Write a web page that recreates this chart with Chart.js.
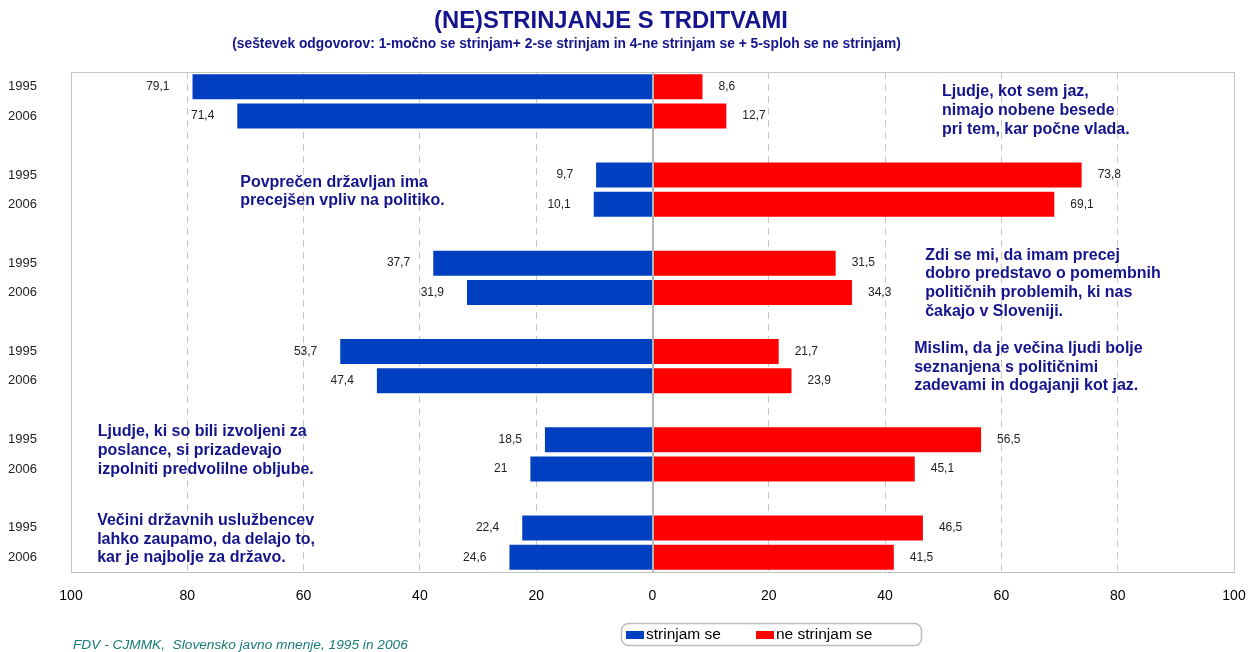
<!DOCTYPE html>
<html>
<head>
<meta charset="utf-8">
<script src="https://cdn.jsdelivr.net/npm/chart.js@4.4.0/dist/chart.umd.min.js"></script>
<style>
  html, body { margin: 0; padding: 0; background: #fff; }
  #wrap { width: 1251px; height: 652px; }
</style>
</head>
<body>
<div id="wrap"><canvas id="chart" width="1251" height="652"></canvas></div>
<script>
// ---- data ----
const YEARS = ['1995', '2006'];
const AGREE_1995 = [79.1, 9.7, 37.7, 53.7, 18.5, 22.4];
const AGREE_2006 = [71.4, 10.1, 31.9, 47.4, 21, 24.6];
const DISAGREE_1995 = [8.6, 73.8, 31.5, 21.7, 56.5, 46.5];
const DISAGREE_2006 = [12.7, 69.1, 34.3, 23.9, 45.1, 41.5];
const X_TICKS = [-100, -80, -60, -40, -20, 0, 20, 40, 60, 80, 100];

const STATEMENTS = [
  ['Ljudje, kot sem jaz,', 'nimajo nobene besede', 'pri tem, kar počne vlada.'],
  ['Povprečen državljan ima', 'precejšen vpliv na politiko.'],
  ['Zdi se mi, da imam precej', 'dobro predstavo o pomembnih', 'političnih problemih, ki nas', 'čakajo v Sloveniji.'],
  ['Mislim, da je večina ljudi bolje', 'seznanjena s političnimi', 'zadevami in dogajanji kot jaz.'],
  ['Ljudje, ki so bili izvoljeni za', 'poslance, si prizadevajo', 'izpolniti predvolilne obljube.'],
  ['Večini državnih uslužbencev', 'lahko zaupamo, da delajo to,', 'kar je najbolje za državo.']
];
// where each statement text sits: x in axis units, y offset in category slots from the group's first bar
const NOTE_X = [49.8, -70.9, 46.9, 45.0, -95.4, -95.5];
const NOTE_DY = [0.18, 0.25, -0.27, -0.1, -0.27, -0.25];

const TITLE = '(NE)STRINJANJE S TRDITVAMI';
const SUBTITLE = '(seštevek odgovorov: 1-močno se strinjam+ 2-se strinjam in 4-ne strinjam se + 5-sploh se ne strinjam)';
const SOURCE = 'FDV - CJMMK,  Slovensko javno mnenje, 1995 in 2006';

const BLUE = '#0040c0';
const RED = '#ff0000';
const NAVY = '#14148c';
const GRID = '#c8c8c8';
const FONT = '"Liberation Sans", Arial, sans-serif';

// build slotted categories: 1995, 2006, gap, 1995, 2006, gap ...
const labels = [];
const agree = [];
const disagree = [];
AGREE_1995.forEach((_, i) => {
  labels.push(YEARS[0], YEARS[1]);
  agree.push(-AGREE_1995[i], -AGREE_2006[i]);
  disagree.push(DISAGREE_1995[i], DISAGREE_2006[i]);
  if (i < AGREE_1995.length - 1) {
    labels.push('');
    agree.push(null);
    disagree.push(null);
  }
});

const fmt = v => String(Math.abs(v)).replace('.', ',');

const decorPlugin = {
  id: 'decor',
  afterDatasetsDraw(chart) {
    const { ctx, chartArea: a, scales: { x } } = chart;
    ctx.save();
    // top frame
    ctx.strokeStyle = GRID;
    ctx.lineWidth = 1;
    ctx.beginPath();
    ctx.moveTo(a.left, a.top + 0.5);
    ctx.lineTo(a.right, a.top + 0.5);
    ctx.stroke();
    // zero line above the bars
    const x0 = Math.round(x.getPixelForValue(0));
    ctx.strokeStyle = '#b4b4b4';
    ctx.lineWidth = 2;
    ctx.beginPath();
    ctx.moveTo(x0, a.top);
    ctx.lineTo(x0, a.bottom);
    ctx.stroke();

    // value labels
    ctx.font = '12px ' + FONT;
    ctx.fillStyle = '#222';
    ctx.textBaseline = 'middle';
    chart.data.datasets.forEach((ds, di) => {
      chart.getDatasetMeta(di).data.forEach((bar, i) => {
        const v = ds.data[i];
        if (v == null) return;
        if (v < 0) {
          ctx.textAlign = 'right';
          ctx.fillText(fmt(v), bar.x - 23, bar.y);
        } else {
          ctx.textAlign = 'left';
          ctx.fillText(fmt(v), bar.x + 16, bar.y);
        }
      });
    });
    ctx.restore();
  },
  afterDraw(chart) {
    const { ctx, scales: { x, y } } = chart;
    ctx.save();
    // statements
    ctx.fillStyle = NAVY;
    ctx.font = 'bold 16px ' + FONT;
    ctx.textAlign = 'left';
    ctx.textBaseline = 'middle';
    STATEMENTS.forEach((lines, g) => {
      const px = x.getPixelForValue(NOTE_X[g]);
      const py = y.getPixelForValue(g * 3 + NOTE_DY[g]);
      lines.forEach((t, k) => ctx.fillText(t, px, py + k * 18.7));
    });

    // title + subtitle
    ctx.textAlign = 'center';
    ctx.font = 'bold 23.8px ' + FONT;
    ctx.fillText(TITLE, 611, 21);
    ctx.font = 'bold 13.8px ' + FONT;
    ctx.fillText(SUBTITLE, 566.5, 44);

    // legend
    ctx.strokeStyle = '#bdbdbd';
    ctx.lineWidth = 1.5;
    ctx.beginPath();
    ctx.roundRect(621.5, 623.5, 300, 22, 7);
    ctx.stroke();
    ctx.font = '15.5px ' + FONT;
    ctx.textAlign = 'left';
    ctx.fillStyle = chart.data.datasets[0].backgroundColor;
    ctx.fillRect(626, 631, 18, 8);
    ctx.fillStyle = chart.data.datasets[1].backgroundColor;
    ctx.fillRect(756, 631, 18, 8);
    ctx.fillStyle = '#000';
    ctx.fillText(chart.data.datasets[0].label, 646, 635);
    ctx.fillText(chart.data.datasets[1].label, 776, 635);

    // source
    ctx.font = 'italic 13.7px ' + FONT;
    ctx.fillStyle = '#1a7a7a';
    ctx.fillText(SOURCE, 73, 645);
    ctx.restore();
  }
};

new Chart(document.getElementById('chart'), {
  type: 'bar',
  data: {
    labels: labels,
    datasets: [
      { label: 'strinjam se', data: agree, backgroundColor: BLUE },
      { label: 'ne strinjam se', data: disagree, backgroundColor: RED }
    ]
  },
  options: {
    indexAxis: 'y',
    responsive: false,
    animation: false,
    layout: { padding: { top: 72, right: 17, left: 0, bottom: 0 } },
    datasets: { bar: { barPercentage: 0.85, categoryPercentage: 1 } },
    plugins: {
      legend: { display: false },
      tooltip: { enabled: false }
    },
    scales: {
      x: {
        min: -100,
        max: 100,
        afterFit: s => { s.height = 80; s.paddingLeft = 0; s.paddingRight = 0; },
        afterBuildTicks: s => { s.ticks = X_TICKS.map(v => ({ value: v })); },
        ticks: {
          padding: 16,
          color: '#000',
          font: { family: FONT, size: 14 },
          callback: v => Math.abs(v)
        },
        grid: {
          drawTicks: false,
          color: c => (c.tick && c.tick.value === 0) ? 'rgba(0,0,0,0)' : GRID,
          lineWidth: 1
        },
        border: {
          display: true,
          color: '#c0c0c0',
          dash: c => (c.tick && Math.abs(c.tick.value) !== 100) ? [7, 5] : []
        }
      },
      y: {
        stacked: true,
        afterFit: s => { s.width = 71; },
        grid: { display: false, drawTicks: false },
        border: { display: false },
        ticks: {
          padding: 34,
          autoSkip: false,
          color: '#222',
          font: { family: FONT, size: 13 }
        }
      }
    }
  },
  plugins: [decorPlugin]
});
</script>
</body>
</html>
